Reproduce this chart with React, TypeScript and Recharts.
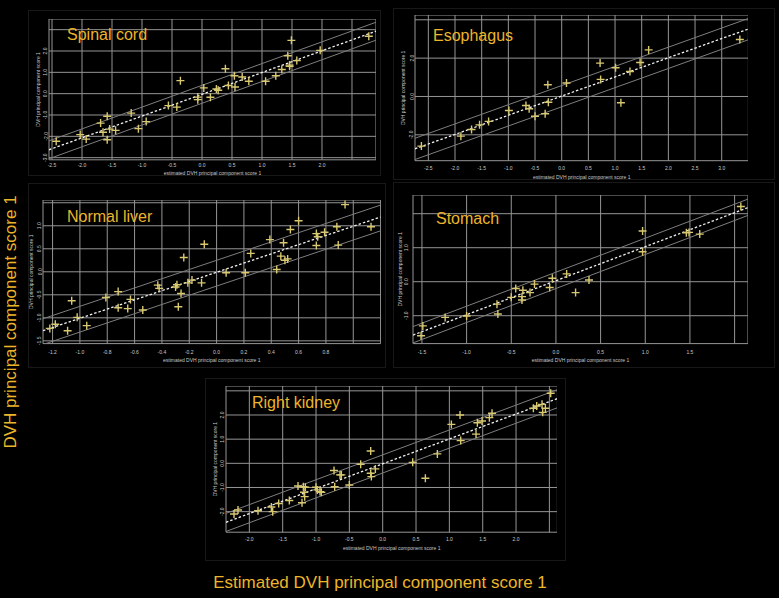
import React from "react";
import { ScatterChart, Scatter, XAxis, YAxis, CartesianGrid, ReferenceLine } from "recharts";

// Spinal cord: estimated vs observed DVH PC score 1
const spinalX = [-2.43, -2.03, -1.93, -1.69, -1.65, -1.58, -1.58, -1.54, -1.44, -1.18, -1.06, -0.93, -0.56, -0.42, -0.36, -0.07, -0.07, 0.03, 0.14, 0.24, 0.27, 0.39, 0.44, 0.54, 0.55, 0.67, 0.78, 1.06, 1.23, 1.33, 1.43, 1.46, 1.49, 1.46, 1.58, 1.97, 2.78];
const spinalY = [-2.23, -1.92, -2.13, -1.38, -1.81, -1.06, -2.16, -1.66, -1.72, -0.91, -1.64, -1.31, -0.56, -0.63, 0.61, -0.16, -0.28, 0.27, -0.17, 0.22, 0.16, 1.17, 0.38, 0.84, 0.31, 0.78, 0.58, 0.58, 0.84, 1.13, 1.78, 1.34, 2.5, 1.28, 1.55, 2.03, 2.69];
const spinalFit = [-0.03, 1.02, 0.42, -0.42]; // intercept, slope, upper, lower

// Esophagus
const esoX = [-2.63, -1.89, -1.69, -1.54, -1.37, -0.99, -0.67, -0.61, -0.5, -0.31, -0.26, -0.25, 0.09, 0.72, 0.73, 1.01, 1.11, 1.28, 1.47, 1.63, 3.34];
const esoY = [-2.59, -2.07, -1.72, -1.48, -1.3, -0.73, -0.47, -0.64, -1.03, -0.9, 0.61, -0.3, 0.7, 1.74, 0.89, 1.5, -0.33, 1.3, 1.77, 2.43, 2.97];
const esoFit = [0.02, 1.0, 0.55, -0.56];

// Normal liver
const liverX = [-1.22, -1.18, -1.09, -1.06, -1.02, -0.95, -0.81, -0.72, -0.72, -0.65, -0.63, -0.54, -0.43, -0.42, -0.3, -0.29, -0.28, -0.26, -0.24, -0.21, -0.18, -0.11, -0.09, 0.07, 0.21, 0.25, 0.39, 0.44, 0.47, 0.49, 0.5, 0.52, 0.54, 0.6, 0.73, 0.74, 0.73, 0.79, 0.88, 0.89, 0.94, 1.13];
const liverY = [-1.23, -1.14, -1.28, -0.63, -0.99, -1.17, -0.56, -0.43, -0.78, -0.8, -0.6, -0.83, -0.29, -0.36, -0.33, -0.28, -0.76, -0.47, 0.31, -0.24, -0.18, -0.24, 0.6, -0.02, -0.02, 0.4, 0.7, 0.05, 0.34, 0.63, 0.25, 0.28, 0.92, 1.11, 0.83, 0.76, 0.57, 0.86, 0.98, 0.58, 1.46, 0.98];
const liverFit = [-0.01, 1.0, 0.26, -0.3];

// Stomach
const stomachX = [-1.51, -1.49, -1.24, -1.0, -0.66, -0.65, -0.5, -0.45, -0.38, -0.38, -0.37, -0.29, -0.24, -0.07, -0.04, 0.12, 0.22, 0.37, 0.97, 0.97, 1.46, 1.49, 1.61, 2.07];
const stomachY = [-1.59, -1.3, -1.05, -1.01, -0.66, -0.95, -0.46, -0.2, -0.54, -0.44, -0.25, -0.32, -0.07, -0.17, 0.1, 0.23, -0.32, 0.05, 1.49, 0.88, 1.44, 1.45, 1.4, 2.21];
const stomachFit = [0.03, 1.0, 0.25, -0.23];

// Right kidney
const kidneyX = [-2.23, -2.17, -1.87, -1.67, -1.65, -1.56, -1.4, -1.27, -1.21, -1.19, -1.18, -1.17, -1.16, -1.0, -0.98, -0.94, -0.92, -0.73, -0.72, -0.64, -0.62, -0.5, -0.33, -0.18, -0.18, -0.17, -0.11, 0.45, 0.64, 0.82, 1.03, 1.16, 1.17, 1.4, 1.42, 1.49, 1.6, 1.64, 2.26, 2.31, 2.39, 2.4, 2.44, 2.52];
const kidneyY = [-2.1, -1.93, -1.96, -1.81, -2.0, -1.66, -1.54, -0.94, -1.63, -0.97, -1.2, -1.38, -0.99, -0.99, -1.1, -1.17, -1.2, -0.3, -0.97, -0.48, -0.48, -0.9, -0.04, 0.51, -0.41, -0.55, -0.23, 0.04, -0.62, 0.39, 1.61, 2.0, 0.94, 1.21, 1.68, 1.75, 1.89, 2.07, 2.28, 2.37, 2.44, 2.11, 2.28, 2.9];
const kidneyFit = [-0.02, 1.03, 0.37, -0.38];

const GOLD = "#edb52a";
const PT = "#d8c870";
const GRID = "#969696";
const BAND = "#7e7e7e";
const TXT = "#c8c8c8";
const FONT = "Liberation Sans, Arial, sans-serif";
const ML = 20;
const MB = 24;

const fmt = (v: number) => v.toFixed(1);
const has = (arr: number[], v: number) => arr.some((a) => Math.abs(a - v) < 1e-6);

const Cross = (props: any) => {
  const { cx, cy } = props;
  if (cx == null || cy == null) return <g />;
  return (
    <path
      d={`M${cx - 4},${cy}H${cx + 4}M${cx},${cy - 4}V${cy + 4}`}
      stroke={PT}
      strokeWidth={1.4}
      fill="none"
    />
  );
};

type PanelDef = {
  title: string;
  titleX: number;
  titleY: number;
  xs: number[];
  ys: number[];
  fit: number[];
  xDomain: [number, number];
  yDomain: [number, number];
  xTicks: number[];
  yTicks: number[];
  xLabels: number[];
  yLabels: number[];
  left: number;
  top: number;
  width: number;
  height: number;
  xTickDy: number;
  xTitleDy: number;
  yTickDx: number;
  yTitleDx: number;
  frame: number[];
};

const panels: PanelDef[] = [
  {
    title: "Spinal cord", titleX: 67, titleY: 41,
    xs: spinalX, ys: spinalY, fit: spinalFit,
    xDomain: [-2.55, 2.9], yDomain: [-3.1, 3.5],
    xTicks: [-2.5, -2, -1.5, -1, -0.5, 0, 0.5, 1, 1.5, 2, 2.5],
    yTicks: [-3, -2, -1, 0, 1, 2, 3],
    xLabels: [-2.5, -2, -1.5, -1, -0.5, 0, 0.5, 1, 1.5, 2],
    yLabels: [-3, -2, -1, 0, 1, 2],
    left: 48.7, top: 19.3, width: 327, height: 140.8,
    xTickDy: 5, xTitleDy: 13, yTickDx: -3.5, yTitleDx: -10.5,
    frame: [28, 10, 353, 166],
  },
  {
    title: "Esophagus", titleX: 433, titleY: 42,
    xs: esoX, ys: esoY, fit: esoFit,
    xDomain: [-2.75, 3.5], yDomain: [-3.35, 4.25],
    xTicks: [-2.5, -2, -1.5, -1, -0.5, 0, 0.5, 1, 1.5, 2, 2.5, 3, 3.5],
    yTicks: [-2, 0, 2, 4],
    xLabels: [-2.5, -2, -1.5, -1, -0.5, 0, 0.5, 1, 1.5, 2, 2.5, 3],
    yLabels: [-2, 0, 2],
    left: 415, top: 14.5, width: 333.4, height: 145.7,
    xTickDy: 7, xTitleDy: 16, yTickDx: -3.5, yTitleDx: -12,
    frame: [393, 8, 382, 172],
  },
  {
    title: "Normal liver", titleX: 67, titleY: 223,
    xs: liverX, ys: liverY, fit: liverFit,
    xDomain: [-1.27, 1.2], yDomain: [-1.56, 1.56],
    xTicks: [-1.2, -1, -0.8, -0.6, -0.4, -0.2, 0, 0.2, 0.4, 0.6, 0.8, 1],
    yTicks: [-1.5, -1, -0.5, 0, 0.5, 1, 1.5],
    xLabels: [-1.2, -1, -0.8, -0.6, -0.4, -0.2, 0, 0.2, 0.4, 0.6, 0.8],
    yLabels: [-1.5, -1, -0.5, 0, 0.5, 1],
    left: 43.1, top: 199.9, width: 337.6, height: 143.6,
    xTickDy: 8.5, xTitleDy: 16.5, yTickDx: -3.5, yTitleDx: -12,
    frame: [28, 183, 358, 185],
  },
  {
    title: "Stomach", titleX: 436, titleY: 225,
    xs: stomachX, ys: stomachY, fit: stomachFit,
    xDomain: [-1.6, 2.15], yDomain: [-1.82, 2.55],
    xTicks: [-1.5, -1, -0.5, 0, 0.5, 1, 1.5, 2],
    yTicks: [-1, 0, 1, 2],
    xLabels: [-1.5, -1, -0.5, 0, 0.5, 1, 1.5],
    yLabels: [-1, 0, 1],
    left: 413.1, top: 195, width: 335, height: 148.6,
    xTickDy: 8.5, xTitleDy: 16.5, yTickDx: -7, yTitleDx: -13,
    frame: [393, 182, 382, 186],
  },
  {
    title: "Right kidney", titleX: 252, titleY: 409,
    xs: kidneyX, ys: kidneyY, fit: kidneyFit,
    xDomain: [-2.35, 2.62], yDomain: [-2.85, 3.2],
    xTicks: [-2, -1.5, -1, -0.5, 0, 0.5, 1, 1.5, 2, 2.5],
    yTicks: [-2, -1, 0, 1, 2, 3],
    xLabels: [-2, -1.5, -1, -0.5, 0, 0.5, 1, 1.5, 2],
    yLabels: [-2, -1, 0, 1, 2],
    left: 226, top: 386, width: 331.4, height: 146.2,
    xTickDy: 7, xTitleDy: 16, yTickDx: -4, yTitleDx: -11,
    frame: [205, 378, 361, 183],
  },
];

function Panel({ p }: { p: PanelDef }) {
  const data = p.xs.map((x, i) => ({ x, y: p.ys[i] }));
  const [b0, b1, up, lo] = p.fit;
  const seg = (off: number) => [
    { x: p.xDomain[0], y: b0 + b1 * p.xDomain[0] + off },
    { x: p.xDomain[1], y: b0 + b1 * p.xDomain[1] + off },
  ];

  const XTick = (props: any) => {
    const { x, y, payload } = props;
    if (!has(p.xLabels, payload.value)) return <g />;
    return (
      <text x={x} y={y + p.xTickDy} textAnchor="middle" dominantBaseline="central" fontSize={5} fill={TXT} fontFamily={FONT}>
        {fmt(payload.value)}
      </text>
    );
  };
  const YTick = (props: any) => {
    const { x, y, payload } = props;
    if (!has(p.yLabels, payload.value)) return <g />;
    const tx = x + p.yTickDx;
    return (
      <text x={tx} y={y} transform={`rotate(-90 ${tx} ${y})`} textAnchor="middle" dominantBaseline="central" fontSize={5} fill={TXT} fontFamily={FONT}>
        {fmt(payload.value)}
      </text>
    );
  };

  const [fx, fy, fw, fh] = p.frame;
  const cx = ML + p.width / 2;
  const cy = p.height / 2;

  return (
    <>
      <div style={{ position: "absolute", left: fx, top: fy, width: fw, height: fh, border: "1px solid #181818", boxSizing: "border-box" }} />
      <div style={{ position: "absolute", left: p.left - ML, top: p.top }}>
        <ScatterChart width={p.width + ML} height={p.height + MB} margin={{ top: 0, right: 0, bottom: 0, left: 0 }}>
          <CartesianGrid stroke={GRID} strokeWidth={1} />
          <XAxis
            type="number"
            dataKey="x"
            domain={p.xDomain}
            ticks={p.xTicks}
            allowDataOverflow
            interval={0}
            height={MB}
            axisLine={false}
            tickLine={false}
            tickSize={0}
            tickMargin={0}
            tick={<XTick />}
          />
          <YAxis
            type="number"
            dataKey="y"
            domain={p.yDomain}
            ticks={p.yTicks}
            allowDataOverflow
            interval={0}
            width={ML}
            axisLine={false}
            tickLine={false}
            tickSize={0}
            tickMargin={0}
            tick={<YTick />}
          />
          <ReferenceLine segment={seg(up)} stroke={BAND} strokeWidth={1} ifOverflow="hidden" />
          <ReferenceLine segment={seg(lo)} stroke={BAND} strokeWidth={1} ifOverflow="hidden" />
          <ReferenceLine segment={seg(0)} stroke="#f2f2f2" strokeWidth={1.3} strokeDasharray="2.5 2" ifOverflow="hidden" />
          <Scatter data={data} shape={<Cross />} isAnimationActive={false} />
        </ScatterChart>
      </div>
      <svg style={{ position: "absolute", left: p.left - ML, top: p.top, overflow: "visible", pointerEvents: "none" }} width={p.width + ML} height={p.height + MB}>
        <text x={cx} y={p.height + p.xTitleDy} textAnchor="middle" dominantBaseline="central" fontSize={5} fill={TXT} fontFamily={FONT}>
          estimated DVH principal component score 1
        </text>
        <text x={ML + p.yTitleDx} y={cy} transform={`rotate(-90 ${ML + p.yTitleDx} ${cy})`} textAnchor="middle" dominantBaseline="central" fontSize={5} fill={TXT} fontFamily={FONT}>
          DVH principal component score 1
        </text>
      </svg>
      <div style={{ position: "absolute", left: p.titleX, top: p.titleY - 15, fontFamily: FONT, fontSize: 16, lineHeight: "18px", color: GOLD, whiteSpace: "nowrap" }}>
        {p.title}
      </div>
    </>
  );
}

export default function App() {
  return (
    <div style={{ position: "absolute", left: 0, top: 0, width: 779, height: 598, background: "#000", overflow: "hidden" }}>
      {panels.map((p) => (
        <Panel key={p.title} p={p} />
      ))}
      <svg style={{ position: "absolute", left: 0, top: 0 }} width={779} height={598}>
        <text x={10} y={322} transform="rotate(-90 10 322)" textAnchor="middle" dominantBaseline="central" fontSize={17} fill={GOLD} fontFamily={FONT}>
          DVH principal component score 1
        </text>
        <text x={380} y={582} textAnchor="middle" dominantBaseline="central" fontSize={17} fill={GOLD} fontFamily={FONT}>
          Estimated DVH principal component score 1
        </text>
      </svg>
    </div>
  );
}
